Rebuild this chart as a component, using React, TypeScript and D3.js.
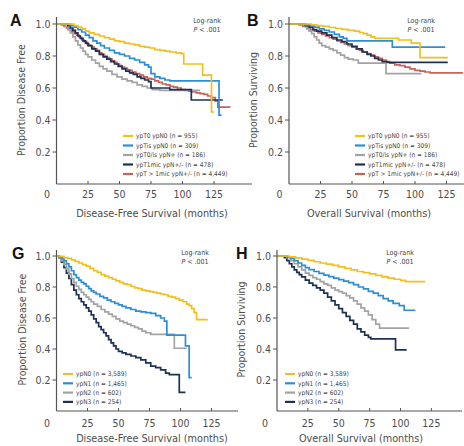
import React from "react";
import * as d3 from "d3";

type Pt = [number, number];

// ---------- Panel A: Disease-free survival by ypT/ypN ----------
const A_T0N0: Pt[] = [[0,1],[12,1],[14,0.99],[17,0.98],[20,0.97],[23,0.955],[26,0.945],[30,0.935],[34,0.925],[38,0.915],[42,0.905],[46,0.895],[50,0.89],[54,0.88],[58,0.875],[62,0.87],[66,0.86],[70,0.855],[74,0.85],[78,0.84],[82,0.835],[86,0.83],[90,0.825],[95,0.82],[99,0.815],[101,0.75],[116,0.68],[123,0.45],[125,0.45]];
const A_TisN0: Pt[] = [[0,1],[9,1],[11,0.99],[14,0.98],[17,0.965],[20,0.95],[23,0.93],[26,0.915],[29,0.895],[32,0.88],[35,0.865],[38,0.85],[42,0.835],[46,0.82],[50,0.81],[54,0.8],[58,0.785],[62,0.775],[66,0.76],[70,0.745],[73,0.73],[75,0.69],[78,0.67],[82,0.66],[86,0.65],[90,0.645],[129,0.43],[131,0.43]];
const A_T0isNpos: Pt[] = [[0,1],[5,1],[7,0.985],[9,0.965],[11,0.945],[13,0.92],[15,0.895],[17,0.87],[19,0.85],[21,0.83],[23,0.81],[25,0.795],[28,0.775],[31,0.755],[34,0.735],[37,0.72],[40,0.705],[44,0.685],[48,0.67],[52,0.655],[56,0.645],[60,0.635],[64,0.62],[68,0.61],[72,0.6],[76,0.59],[82,0.585],[114,0.585]];
const A_T1mic: Pt[] = [[0,1],[7,1],[9,0.99],[11,0.975],[13,0.96],[15,0.945],[17,0.925],[19,0.91],[21,0.895],[23,0.88],[25,0.865],[28,0.845],[31,0.83],[34,0.81],[37,0.795],[40,0.78],[43,0.765],[46,0.75],[49,0.735],[52,0.72],[55,0.705],[58,0.695],[61,0.685],[64,0.67],[67,0.66],[70,0.65],[73,0.64],[75,0.6],[90,0.59],[107,0.525],[132,0.525]];
const A_Tgt1mic: Pt[] = [[0,1],[4,0.995],[6,0.985],[8,0.975],[10,0.965],[12,0.955],[14,0.94],[16,0.93],[18,0.915],[20,0.9],[22,0.89],[24,0.875],[26,0.865],[28,0.855],[30,0.845],[32,0.835],[34,0.82],[36,0.81],[38,0.8],[40,0.79],[42,0.78],[44,0.77],[46,0.76],[48,0.75],[50,0.74],[52,0.73],[54,0.725],[56,0.715],[58,0.71],[60,0.7],[63,0.69],[66,0.68],[69,0.67],[72,0.66],[75,0.655],[78,0.645],[81,0.635],[84,0.625],[87,0.62],[90,0.61],[93,0.605],[96,0.6],[99,0.59],[102,0.585],[105,0.58],[108,0.575],[111,0.57],[114,0.565],[117,0.56],[120,0.55],[123,0.54],[126,0.52],[128,0.48],[138,0.48]];

// ---------- Panel B: Overall survival by ypT/ypN ----------
const B_T0N0: Pt[] = [[0,1],[15,1],[18,0.995],[22,0.99],[27,0.985],[32,0.978],[37,0.972],[42,0.967],[47,0.96],[52,0.955],[56,0.947],[59,0.94],[62,0.93],[65,0.92],[68,0.91],[87,0.9],[97,0.88],[104,0.79],[126,0.79]];
const B_TisN0: Pt[] = [[0,1],[10,1],[13,0.995],[17,0.99],[20,0.98],[24,0.97],[28,0.96],[32,0.95],[36,0.935],[40,0.92],[43,0.91],[46,0.895],[82,0.855],[124,0.855]];
const B_T0isNpos: Pt[] = [[0,1],[10,1],[12,0.985],[14,0.97],[16,0.955],[18,0.94],[20,0.92],[22,0.9],[24,0.88],[26,0.865],[29,0.855],[32,0.845],[35,0.835],[38,0.82],[41,0.805],[44,0.79],[47,0.78],[51,0.775],[55,0.755],[77,0.69],[105,0.69]];
const B_T1mic: Pt[] = [[0,1],[10,1],[13,0.99],[16,0.98],[19,0.965],[22,0.955],[26,0.945],[30,0.93],[34,0.915],[38,0.9],[42,0.89],[46,0.875],[50,0.86],[54,0.845],[58,0.825],[62,0.81],[65,0.8],[68,0.785],[71,0.775],[74,0.765],[78,0.76],[126,0.76]];
const B_Tgt1mic: Pt[] = [[0,1],[8,0.995],[11,0.985],[14,0.975],[17,0.965],[20,0.955],[23,0.945],[26,0.935],[29,0.925],[32,0.915],[35,0.905],[38,0.895],[41,0.885],[44,0.875],[47,0.865],[50,0.855],[53,0.845],[56,0.835],[59,0.825],[62,0.815],[65,0.805],[68,0.795],[71,0.785],[74,0.775],[77,0.765],[80,0.755],[84,0.745],[88,0.74],[92,0.73],[96,0.72],[100,0.71],[104,0.705],[108,0.7],[112,0.695],[138,0.695]];

// ---------- Panel G: Disease-free survival by ypN ----------
const G_N0: Pt[] = [[0,1],[3,0.997],[6,0.99],[9,0.985],[12,0.975],[15,0.965],[18,0.955],[21,0.945],[24,0.935],[27,0.92],[30,0.905],[33,0.895],[36,0.88],[39,0.87],[42,0.86],[45,0.85],[48,0.84],[51,0.83],[54,0.82],[57,0.815],[60,0.805],[63,0.795],[66,0.79],[69,0.78],[72,0.775],[75,0.77],[78,0.765],[81,0.76],[84,0.755],[87,0.75],[90,0.74],[93,0.735],[96,0.725],[99,0.715],[102,0.705],[105,0.69],[107,0.68],[109,0.66],[111,0.635],[113,0.59],[122,0.59]];
const G_N1: Pt[] = [[0,1],[2,0.995],[4,0.985],[6,0.97],[8,0.95],[10,0.93],[12,0.905],[14,0.88],[16,0.86],[18,0.845],[20,0.83],[22,0.82],[24,0.805],[26,0.79],[28,0.775],[30,0.765],[32,0.755],[35,0.74],[38,0.73],[41,0.715],[44,0.705],[47,0.695],[50,0.685],[53,0.675],[56,0.665],[60,0.655],[64,0.645],[68,0.64],[72,0.635],[76,0.63],[80,0.615],[84,0.6],[87,0.58],[89,0.49],[104,0.42],[107,0.215],[109,0.215]];
const G_N2: Pt[] = [[0,1],[2,0.99],[4,0.97],[6,0.945],[8,0.915],[10,0.885],[12,0.855],[14,0.83],[16,0.805],[18,0.785],[20,0.765],[22,0.75],[24,0.735],[26,0.72],[28,0.705],[30,0.69],[33,0.675],[36,0.655],[39,0.64],[42,0.625],[45,0.61],[48,0.595],[51,0.58],[54,0.57],[57,0.56],[60,0.55],[63,0.54],[66,0.53],[69,0.515],[72,0.505],[76,0.495],[95,0.405],[105,0.405]];
const G_N3: Pt[] = [[0,1],[2,0.99],[4,0.96],[6,0.925],[8,0.89],[10,0.855],[12,0.815],[14,0.78],[16,0.75],[18,0.725],[20,0.705],[22,0.685],[24,0.665],[26,0.645],[28,0.62],[30,0.595],[32,0.57],[34,0.545],[36,0.525],[38,0.505],[40,0.485],[42,0.46],[44,0.44],[46,0.42],[48,0.4],[50,0.385],[53,0.375],[56,0.365],[60,0.355],[64,0.345],[68,0.33],[72,0.31],[76,0.29],[80,0.28],[84,0.265],[88,0.245],[91,0.235],[99,0.12],[104,0.12]];

// ---------- Panel H: Overall survival by ypN ----------
const H_N0: Pt[] = [[0,1],[6,1],[10,0.995],[15,0.988],[20,0.98],[25,0.972],[30,0.963],[35,0.955],[40,0.948],[45,0.94],[50,0.93],[55,0.92],[60,0.91],[65,0.9],[70,0.893],[75,0.885],[80,0.875],[85,0.865],[90,0.857],[95,0.85],[100,0.843],[104,0.835],[120,0.835]];
const H_N1: Pt[] = [[0,1],[5,1],[8,0.995],[11,0.985],[14,0.97],[17,0.955],[20,0.94],[23,0.925],[26,0.912],[30,0.9],[34,0.888],[38,0.877],[42,0.867],[46,0.857],[50,0.848],[54,0.838],[58,0.828],[62,0.815],[66,0.8],[70,0.788],[74,0.772],[78,0.76],[82,0.745],[86,0.725],[90,0.71],[94,0.695],[99,0.68],[103,0.65],[112,0.65]];
const H_N2: Pt[] = [[0,1],[5,1],[8,0.99],[11,0.97],[14,0.95],[17,0.93],[20,0.91],[23,0.89],[26,0.875],[29,0.86],[32,0.85],[35,0.835],[38,0.82],[41,0.81],[44,0.795],[47,0.78],[50,0.77],[53,0.76],[56,0.745],[59,0.73],[62,0.71],[65,0.69],[68,0.665],[71,0.645],[74,0.62],[77,0.59],[80,0.56],[83,0.535],[107,0.535]];
const H_N3: Pt[] = [[0,1],[4,1],[6,0.99],[8,0.97],[10,0.95],[12,0.93],[14,0.91],[16,0.895],[18,0.88],[20,0.865],[23,0.845],[26,0.825],[29,0.81],[32,0.795],[35,0.78],[38,0.76],[41,0.735],[44,0.71],[47,0.685],[50,0.66],[53,0.635],[56,0.61],[59,0.585],[62,0.56],[65,0.53],[68,0.51],[71,0.49],[74,0.475],[76,0.465],[96,0.395],[105,0.395]];

const LEGEND_T = ["ypT0 ypN0 (n = 955)", "ypTis ypN0 (n = 309)", "ypT0/is ypN+ (n = 186)", "ypT1mic ypN+/- (n = 478)", "ypT > 1mic ypN+/- (n = 4,449)"];
const LEGEND_N = ["ypN0 (n = 3,589)", "ypN1 (n = 1,465)", "ypN2 (n = 602)", "ypN3 (n = 254)"];
const COLORS_T = ["#f0c020", "#2c8fd6", "#a3a3a3", "#1d3253", "#c9625a"];
const COLORS_N = ["#f0c020", "#2c8fd6", "#a3a3a3", "#1d3253"];
const Y_TICKS = [0.2, 0.4, 0.6, 0.8, 1.0];
const X_TICKS = [25, 50, 75, 100, 125];

const FONT = "'Liberation Sans Narrow', 'Arial Narrow', 'DejaVu Sans Condensed', 'Liberation Sans', sans-serif";

interface PanelProps {
  letter: string;
  letterX: number; letterY: number;
  x0: number; k: number;
  yTop: number; yBot: number;
  axisTop: number; axisRight: number;
  series: Pt[][]; colors: string[]; labels: string[];
  legX: number; legY: number; legDy: number;
  yTitle: string; yTitleX: number;
  xTitle: string; xTitleX: number; xTitleY: number;
  logX: number;
  zeroX: number; tickY: number;
  drawOrder: number[];
}

function Panel(p: PanelProps) {
  const x = d3.scaleLinear().domain([0, 125]).range([p.x0, p.x0 + 125 * p.k]);
  const y = d3.scaleLinear().domain([0, 1]).range([p.yBot, p.yTop]);
  const line = d3.line<Pt>().x(d => x(d[0])).y(d => y(d[1])).curve(d3.curveStepAfter);
  const axisCol = "#555";
  const textCol = "#4d4d4d";
  const yMid = (p.yTop + p.yBot) / 2 - 4;
  return (
    <g fontFamily={FONT}>
      <text x={p.letterX} y={p.letterY} fontSize={16} fontWeight="bold" fill="#111" fontFamily="'Liberation Sans', Arial, sans-serif">{p.letter}</text>
      {p.drawOrder.map(i => (
        <path key={i} d={line(p.series[i]) || ""} fill="none" stroke={p.colors[i]} strokeWidth={1.7} />
      ))}
      <line x1={p.x0} x2={p.x0} y1={p.axisTop} y2={p.yBot} stroke={axisCol} strokeWidth={1.2} />
      <line x1={p.x0} x2={p.axisRight} y1={p.yBot} y2={p.yBot} stroke={axisCol} strokeWidth={1.2} />
      {Y_TICKS.map(t => (
        <g key={t}>
          <line x1={p.x0 - 4} x2={p.x0} y1={y(t)} y2={y(t)} stroke={axisCol} strokeWidth={1} />
          <text x={p.x0 - 6} y={y(t) + 3.5} fontSize={10.5} textAnchor="end" fill={textCol}>{t.toFixed(1)}</text>
        </g>
      ))}
      {X_TICKS.map(t => (
        <g key={t}>
          <line x1={x(t)} x2={x(t)} y1={p.yBot} y2={p.yBot - 3} stroke={axisCol} strokeWidth={1} />
          <text x={x(t)} y={p.tickY} fontSize={10.5} textAnchor="middle" fill={textCol}>{t}</text>
        </g>
      ))}
      <text x={p.zeroX} y={p.tickY} fontSize={10.5} textAnchor="middle" fill={textCol}>0</text>
      <text transform={`translate(${p.yTitleX},${yMid}) rotate(-90)`} fontSize={10.5} textAnchor="middle" fill={textCol}>{p.yTitle}</text>
      <text x={p.xTitleX} y={p.xTitleY} fontSize={10.8} textAnchor="middle" fill={textCol}>{p.xTitle}</text>
      <text x={p.logX} y={p.yTop - 1} fontSize={7} textAnchor="middle" fill="#444">Log-rank</text>
      <text x={p.logX} y={p.yTop + 8} fontSize={7} textAnchor="middle" fill="#444"><tspan fontStyle="italic">P</tspan> &lt; .001</text>
      {p.labels.map((lab, i) => (
        <g key={lab}>
          <line x1={p.legX} x2={p.legX + 10} y1={p.legY + i * p.legDy} y2={p.legY + i * p.legDy} stroke={p.colors[i]} strokeWidth={2.2} />
          <text x={p.legX + 13} y={p.legY + i * p.legDy + 2.4} fontSize={6.5} fill="#444">{lab}</text>
        </g>
      ))}
    </g>
  );
}

export default function App() {
  const seriesA = [A_T0N0, A_TisN0, A_T0isNpos, A_T1mic, A_Tgt1mic];
  const seriesB = [B_T0N0, B_TisN0, B_T0isNpos, B_T1mic, B_Tgt1mic];
  const seriesG = [G_N0, G_N1, G_N2, G_N3];
  const seriesH = [H_N0, H_N1, H_N2, H_N3];
  return (
    <svg width={464} height={446} style={{ position: "absolute", left: 0, top: 0, background: "#fff" }}>
      <rect width={464} height={446} fill="#fff" />
      <Panel letter="A" letterX={10} letterY={26} x0={56.5} k={1.26} yTop={24} yBot={184} axisTop={17} axisRight={252}
        series={seriesA} colors={COLORS_T} labels={LEGEND_T} legX={123} legY={136} legDy={9.5}
        yTitle="Proportion Disease Free" yTitleX={25} xTitle="Disease-Free Survival (months)" xTitleX={152} xTitleY={217}
        logX={207} zeroX={47} tickY={198} drawOrder={[4, 2, 3, 1, 0]} />
      <Panel letter="B" letterX={247} letterY={26} x0={289} k={1.26} yTop={24} yBot={184} axisTop={17} axisRight={464}
        series={seriesB} colors={COLORS_T} labels={LEGEND_T} legX={355} legY={136} legDy={9.5}
        yTitle="Proportion Surviving" yTitleX={257} xTitle="Overall Survival (months)" xTitleX={369} xTitleY={217}
        logX={421} zeroX={279.5} tickY={198} drawOrder={[4, 2, 3, 1, 0]} />
      <Panel letter="G" letterX={12} letterY={259} x0={56.5} k={1.24} yTop={256} yBot={411} axisTop={250} axisRight={238}
        series={seriesG} colors={COLORS_N} labels={LEGEND_N} legX={63} legY={374} legDy={9.3}
        yTitle="Proportion Disease Free" yTitleX={26} xTitle="Disease-Free Survival (months)" xTitleX={152} xTitleY={442}
        logX={195} zeroX={47} tickY={427} drawOrder={[3, 2, 1, 0]} />
      <Panel letter="H" letterX={236} letterY={259} x0={277} k={1.235} yTop={256} yBot={411} axisTop={250} axisRight={462}
        series={seriesH} colors={COLORS_N} labels={LEGEND_N} legX={285} legY={374} legDy={9.3}
        yTitle="Proportion Surviving" yTitleX={245} xTitle="Overall Survival (months)" xTitleX={361} xTitleY={442}
        logX={400} zeroX={265} tickY={427} drawOrder={[3, 2, 1, 0]} />
    </svg>
  );
}
